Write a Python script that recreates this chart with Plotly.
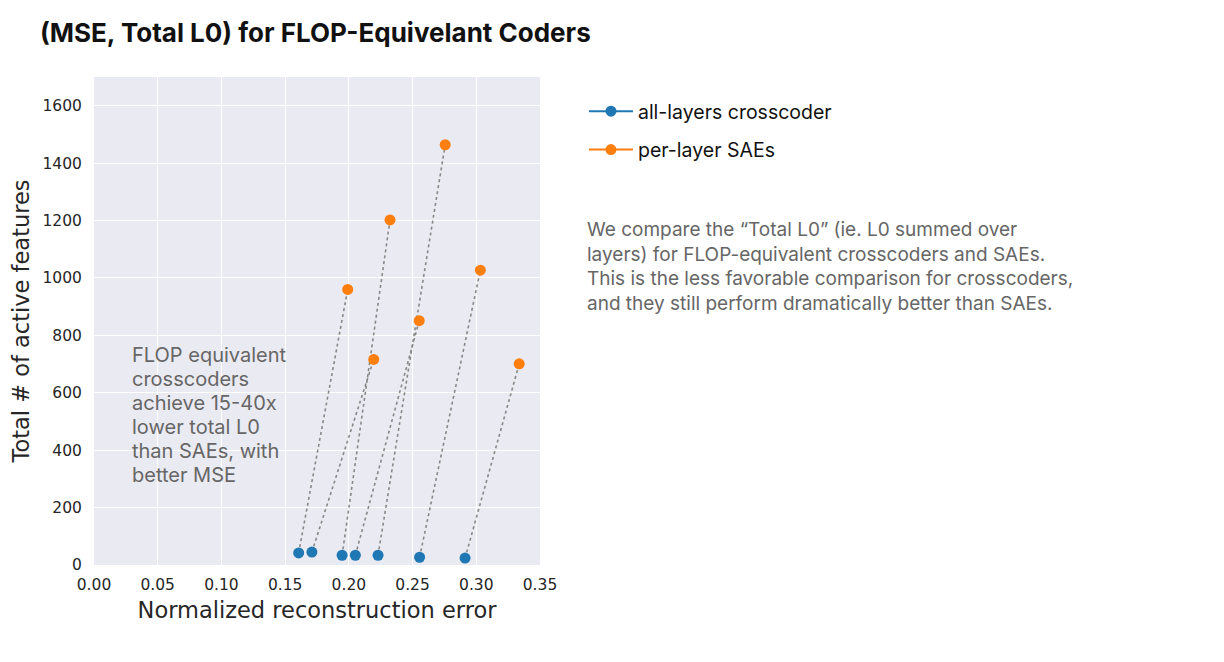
import plotly.graph_objects as go

# crosscoder (all layers) vs per-layer SAE, FLOP-matched pairs
cc_mse = [0.1606, 0.1710, 0.1947, 0.2051, 0.2229, 0.2555, 0.2912]
cc_l0 = [42, 45, 34, 34, 34, 27, 24]
sae_mse = [0.1991, 0.2195, 0.2323, 0.2552, 0.2756, 0.3032, 0.3337]
sae_l0 = [960, 716, 1202, 851, 1464, 1027, 701]

x_ticks = [0.0, 0.05, 0.1, 0.15, 0.2, 0.25, 0.3, 0.35]
y_ticks = [0, 200, 400, 600, 800, 1000, 1200, 1400, 1600]

note_lines = ['FLOP equivalent', 'crosscoders', 'achieve 15-40x',
              'lower total L0', 'than SAEs, with', 'better MSE']

tick_font = dict(family='DejaVu Sans', size=15.5, color='#262626')
label_font = dict(family='DejaVu Sans', size=22.5, color='#262626')

W, H = 1208, 646  # page has an 8px body margin
L, R, T, B = 85.5, 532, 69, 557  # plot area in figure pixels
Y_MAX = 1700


def px(x):
    return (x - L) / (R - L)


def py(y):
    return (B - y) / (B - T)


def gapped(v):
    # points only, but keep a line in the legend sample
    out = []
    for a in v:
        out += [a, None]
    return out[:-1]


fig = go.Figure()

# dotted connectors between matched pairs
lx, ly = [], []
for a, b, c, d in zip(cc_mse, cc_l0, sae_mse, sae_l0):
    lx += [a, c, None]
    ly += [b, d, None]
fig.add_trace(go.Scatter(x=lx, y=ly, mode='lines', showlegend=False, hoverinfo='skip',
                         line={'color': '#888888', 'width': 1.6, 'dash': 'dot'}))

fig.add_trace(go.Scatter(x=gapped(cc_mse), y=gapped(cc_l0), mode='lines+markers',
                         name='all-layers crosscoder', legendgroup='cc', connectgaps=False,
                         marker={'size': 11, 'color': '#1f77b4'},
                         line={'color': '#1f77b4', 'width': 2}))
fig.add_trace(go.Scatter(x=gapped(sae_mse), y=gapped(sae_l0), mode='lines+markers',
                         name='per-layer SAEs', legendgroup='sae', connectgaps=False,
                         marker={'size': 11, 'color': '#ff7f0e'},
                         line={'color': '#ff7f0e', 'width': 2}))

fig.update_layout(
    width=W, height=H,
    margin=dict(l=L, r=W - R, t=T, b=H - B, autoexpand=False),
    paper_bgcolor='white', plot_bgcolor='#EAEAF2',
    font=dict(family='Inter', color='#262626'),
    title=dict(text='<b>(MSE, Total L0) for FLOP-Equivelant Coders</b>',
               font=dict(family='Inter', size=26, color='#111'),
               x=32 / W, xanchor='left', y=1 - 25 / H, yanchor='middle'),
    legend=dict(x=px(576), xanchor='left', y=py(84), yanchor='top',
                font=dict(family='Inter', size=19.5, color='#111'),
                tracegroupgap=10, itemwidth=44, bgcolor='rgba(0,0,0,0)'),
)

fig.update_xaxes(range=[0, 0.35], tickvals=x_ticks, ticktext=['%.2f' % v for v in x_ticks],
                 showgrid=True, gridcolor='white', gridwidth=1.2, zeroline=False,
                 showline=False, ticks='outside', ticklen=5, tickcolor='rgba(0,0,0,0)',
                 tickfont=tick_font, automargin=False,
                 title=dict(text='Normalized reconstruction error', font=label_font, standoff=9))
fig.update_yaxes(range=[0, Y_MAX], tickvals=y_ticks,
                 showgrid=True, gridcolor='white', gridwidth=1.2, zeroline=False,
                 showline=False, ticks='outside', ticklen=8, tickcolor='rgba(0,0,0,0)',
                 tickfont=tick_font, automargin=False,
                 title=dict(text='Total # of active features', font=label_font, standoff=9))

# left note, one line per annotation so the line spacing matches (24px)
for i, line in enumerate(note_lines):
    fig.add_annotation(x=0.0285, y=py(347 + 24 * i), xref='x', yref='paper',
                       xanchor='left', yanchor='middle', align='left', showarrow=False,
                       text=line, font=dict(family='Inter', size=20, color='#666'))

fig.add_annotation(x=px(577), y=py(208), xref='paper', yref='paper', xanchor='left', yanchor='top',
                   align='left', showarrow=False,
                   text='We compare the “Total L0” (ie. L0 summed over<br>layers) for FLOP-equivalent crosscoders and SAEs.<br>This is the less favorable comparison for crosscoders,<br>and they still perform dramatically better than SAEs.',
                   font=dict(family='Inter', size=19, color='#666'))

fig.write_html("out.html")
